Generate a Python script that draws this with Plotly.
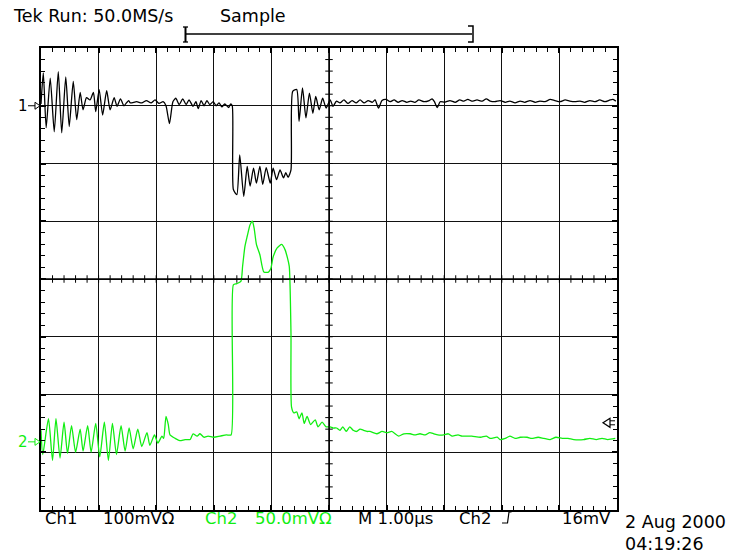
import plotly.graph_objects as go

# ---------------- data (time in µs, voltage in mV relative to each channel's ground) -------------
ch1_t = [0.00, 0.04, 0.09, 0.16, 0.23, 0.30, 0.36, 0.43, 0.49, 0.56, 0.62, 0.68, 0.73, 0.79, 0.85,
         0.91, 0.95, 1.01, 1.07, 1.14, 1.20, 1.27, 1.32, 1.38, 1.44, 1.52, 1.55, 1.66, 1.75, 1.83,
         1.91, 1.98, 2.05, 2.12, 2.17, 2.23, 2.29, 2.34, 2.40, 2.46, 2.52, 2.57, 2.64, 2.69, 2.73,
         2.78, 2.83, 2.88, 2.93, 2.99, 3.04, 3.09, 3.14, 3.19, 3.26, 3.29, 3.32, 3.34, 3.40, 3.45,
         3.52, 3.58, 3.63, 3.69, 3.74, 3.80, 3.85, 3.91, 3.98, 4.03, 4.09, 4.15, 4.21, 4.25, 4.29,
         4.34, 4.37, 4.44, 4.48, 4.54, 4.60, 4.66, 4.72, 4.77, 4.83, 4.89, 4.95, 5.02, 5.07, 5.13,
         5.19, 5.26, 5.33, 5.40, 5.47, 5.54, 5.61, 5.68, 5.75, 5.80, 5.86, 5.92, 5.99, 6.06, 6.13,
         6.20, 6.27, 6.35, 6.42, 6.49, 6.56, 6.65, 6.74, 6.79, 6.83, 6.88, 6.93, 7.01, 7.10, 7.19,
         7.27, 7.34, 7.41, 7.48, 7.57, 7.66, 7.73, 7.80, 7.88, 7.97, 8.06, 8.14, 8.23, 8.32, 8.40,
         8.49, 8.58, 8.66, 8.75, 8.84, 8.92, 9.01, 9.10, 9.18, 9.27, 9.36, 9.44, 9.53, 9.62, 9.70,
         9.79, 9.88, 9.93, 9.98]
ch1_mv = [3, 57, -38, 48, -45, 59, -47, 50, -36, 42, -24, 23, -7, 14, 10,
          23, -10, 28, -16, 26, -7, 14, -1, 12, 0, 9, 5, 7, 5, 9,
          5, 10, 4, 7, 0, -31, 7, 13, 2, 12, 2, 10, -1, 7, -5,
          9, 0, 9, 2, 7, 0, 5, -2, 3, -3, 3, 0, -145, -154, -85,
          -157, -105, -139, -108, -134, -105, -136, -107, -134, -108, -128, -111, -125, -116, -124,
          -111, 25, 28, -27, 31, -21, 22, -13, 16, -7, 13, -4, 10, -1, 8,
          5, 10, 4, 9, 5, 10, 5, 9, 6, 10, -4, 9, 11, 7, 10,
          6, 9, 6, 8, 6, 10, 7, 9, 12, 7, -3, 7, 6, 9, 6,
          10, 8, 11, 8, 10, 8, 12, 8, 7, 9, 6, 8, 5, 8, 6,
          9, 6, 8, 7, 11, 9, 7, 10, 8, 7, 8, 6, 9, 7, 10,
          7, 10, 11, 8]

ch2_t = [0.00, 0.03, 0.13, 0.20, 0.26, 0.33, 0.40, 0.46, 0.53, 0.60, 0.68, 0.73, 0.81, 0.87, 0.95,
         1.02, 1.10, 1.17, 1.24, 1.31, 1.39, 1.46, 1.53, 1.60, 1.68, 1.75, 1.84, 1.89, 1.97, 2.03,
         2.10, 2.13, 2.17, 2.21, 2.24, 2.33, 2.41, 2.50, 2.59, 2.64, 2.71, 2.76, 2.83, 2.90, 3.00,
         3.11, 3.22, 3.30, 3.34, 3.40, 3.47, 3.50, 3.54, 3.58, 3.63, 3.67, 3.70, 3.74, 3.80, 3.87,
         3.95, 3.99, 4.03, 4.10, 4.18, 4.24, 4.28, 4.31, 4.34, 4.35, 4.39, 4.44, 4.48, 4.53, 4.57,
         4.62, 4.68, 4.76, 4.81, 4.88, 4.95, 5.02, 5.07, 5.13, 5.19, 5.24, 5.30, 5.36, 5.42, 5.48,
         5.54, 5.60, 5.66, 5.71, 5.83, 5.92, 6.01, 6.09, 6.21, 6.30, 6.41, 6.49, 6.58, 6.67, 6.75,
         6.82, 6.89, 6.99, 7.07, 7.14, 7.24, 7.31, 7.40, 7.48, 7.63, 7.73, 7.80, 7.92, 7.97, 8.06,
         8.14, 8.23, 8.32, 8.44, 8.52, 8.63, 8.73, 8.84, 8.94, 9.05, 9.15, 9.25, 9.42, 9.53, 9.64,
         9.74, 9.84, 9.97]
ch2_mv = [10, -11, 20, -16, 20, -14, 17, -10, 14, -9, 11, -8, 14, -9, 16,
          -13, 17, -16, 16, -11, 14, -8, 12, -6, 11, -4, 8, -3, 6, -1,
          5, 3, 22, 15, 6, 3, 1, 2, 2, 7, 5, 7, 4, 5, 4,
          5, 6, 6, 136, 137, 139, 152, 169, 178, 188, 191, 185, 171, 162, 147,
          147, 150, 160, 168, 171, 166, 159, 152, 94, 30, 25, 26, 20, 25, 16,
          22, 15, 19, 13, 17, 13, 13, 12, 12, 10, 13, 9, 13, 10, 9,
          11, 10, 9, 9, 7, 9, 8, 9, 5, 7, 7, 6, 7, 6, 8,
          7, 6, 6, 7, 5, 6, 5, 5, 5, 4, 5, 3, 4, 2, 3,
          5, 3, 4, 4, 3, 4, 3, 2, 4, 3, 3, 2, 2, 3, 2,
          3, 2, 3]

ch1_scale_mv = 100.0   # mV / div
ch2_scale_mv = 50.0    # mV / div
ch1_ground_div = 3.0
ch2_ground_div = -2.82
trigger_level_div = -2.49

top_left_text = "Tek Run: 50.0MS/s"
top_mid_text = "Sample"
bottom_labels = ["Ch1", "100mVΩ", "Ch2", "50.0mVΩ", "M 1.00µs", "Ch2", "16mV"]
date_text = "2 Aug 2000"
time_text = "04:19:26"

# ---------------- layout helpers ----------------
L, R, T, B = 41, 617, 48, 510
W, H = 734, 557
DIV_PX = (B - T) / 8.0


def px(x):
    return (x - L) / (R - L)


def py(y):
    return (B - y) / (B - T)


def ydiv_to_px(d):
    return (T + B) / 2.0 - d * DIV_PX


FONT = "DejaVu Sans"
GREEN = "#11ee11"

fig = go.Figure()
fig.add_trace(go.Scatter(x=ch1_t, y=[ch1_ground_div + v / ch1_scale_mv for v in ch1_mv],
                         mode="lines", line=dict(color="black", width=1.3, shape="spline", smoothing=0.6),
                         hoverinfo="skip"))
fig.add_trace(go.Scatter(x=ch2_t, y=[ch2_ground_div + v / ch2_scale_mv for v in ch2_mv],
                         mode="lines", line=dict(color=GREEN, width=1.3, shape="spline", smoothing=0.6),
                         hoverinfo="skip"))

axis_common = dict(showgrid=True, gridcolor="#111111", gridwidth=1, dtick=1,
                   showline=True, linecolor="black", linewidth=1.5, mirror="allticks",
                   ticks="inside", ticklen=5, tickwidth=2, tickcolor="black",
                   showticklabels=False, zeroline=False,
                   minor=dict(dtick=0.2, ticks="inside", ticklen=4, tickwidth=1,
                              tickcolor="black", showgrid=False))
fig.update_xaxes(range=[0, 10], tick0=0, **axis_common)
fig.update_yaxes(range=[-4, 4], tick0=-4, **axis_common)

shapes = []
# centre cross lines (slightly heavier) with minor ticks
shapes.append(dict(type="line", xref="x", yref="y", x0=5, x1=5, y0=-4, y1=4,
                   line=dict(color="black", width=1.5)))
shapes.append(dict(type="line", xref="x", yref="y", x0=0, x1=10, y0=0, y1=0,
                   line=dict(color="black", width=1.5)))
for i in range(1, 50):
    xv = i * 0.2
    shapes.append(dict(type="line", xref="x", yref="y", x0=xv, x1=xv, y0=-0.065, y1=0.065,
                       line=dict(color="black", width=1)))
for j in range(1, 40):
    yv = -4 + j * 0.2
    shapes.append(dict(type="line", xref="x", yref="y", x0=5 - 0.065, x1=5 + 0.065, y0=yv, y1=yv,
                       line=dict(color="black", width=1)))


def path_px(points, color, width=1.2, closed=False):
    d = "M " + " L ".join(f"{px(a):.5f},{py(b):.5f}" for a, b in points)
    if closed:
        d += " Z"
    return dict(type="path", xref="paper", yref="paper", path=d,
                line=dict(color=color, width=width))


# ground markers
g1 = ydiv_to_px(ch1_ground_div)
g2 = ydiv_to_px(ch2_ground_div)
for gy, col in ((g1, "black"), (g2, GREEN)):
    shapes.append(path_px([(28, gy), (35, gy)], col, 1))
    shapes.append(path_px([(35, gy - 3.5), (40, gy), (35, gy + 3.5)], col, 1, closed=True))

# trigger level marker on right
ty = ydiv_to_px(trigger_level_div)
shapes.append(path_px([(610, ty - 4.5), (603, ty), (610, ty + 4.5)], "black", 1.2, closed=True))
shapes.append(path_px([(610, ty - 2), (615, ty - 2)], "black", 1))
shapes.append(path_px([(610, ty + 2), (615, ty + 2)], "black", 1))

# top trigger-position bracket
shapes.append(path_px([(186, 34), (472, 34)], "black", 1.3))
shapes.append(path_px([(183, 27), (188, 27)], "black", 1.3))
shapes.append(path_px([(185.5, 27), (185.5, 42)], "black", 2))
shapes.append(path_px([(183, 42), (188, 42)], "black", 1.3))
shapes.append(path_px([(468, 26), (473, 26), (473, 42), (468, 42)], "black", 1.5))

# trigger slope symbol in bottom line
shapes.append(path_px([(502, 523), (507.5, 523), (509, 512), (511.5, 512)], "black", 1.2))

fig.update_layout(shapes=shapes)

ann = []


def text_px(x, y, s, color="black", size=16, anchor="left"):
    ann.append(dict(x=px(x), y=py(y), xref="paper", yref="paper", text=s, showarrow=False,
                    xanchor=anchor, yanchor="middle",
                    font=dict(family=FONT, size=size, color=color)))


text_px(11, 16, top_left_text, size=17.5)
text_px(218, 16, top_mid_text, size=17.5)
text_px(16, g1, "1", size=15)
text_px(16, g2, "2", color=GREEN, size=15)

bx = [43, 101, 203, 253, 356, 457, 560]
bcol = ["black", "black", GREEN, GREEN, "black", "black", "black"]
for xx, s, c in zip(bx, bottom_labels, bcol):
    text_px(xx, 518, s, color=c, size=16.5)
text_px(623, 522, date_text, size=17.5)
text_px(623, 544, time_text, size=17.5)

fig.update_layout(annotations=ann, width=W, height=H,
                  margin=dict(l=L, r=W - R, t=T, b=H - B),
                  paper_bgcolor="white", plot_bgcolor="white", showlegend=False)

fig.write_html("out.html", config={"displayModeBar": False},
               post_script="document.body.style.margin='0';document.body.style.overflow='hidden';")
